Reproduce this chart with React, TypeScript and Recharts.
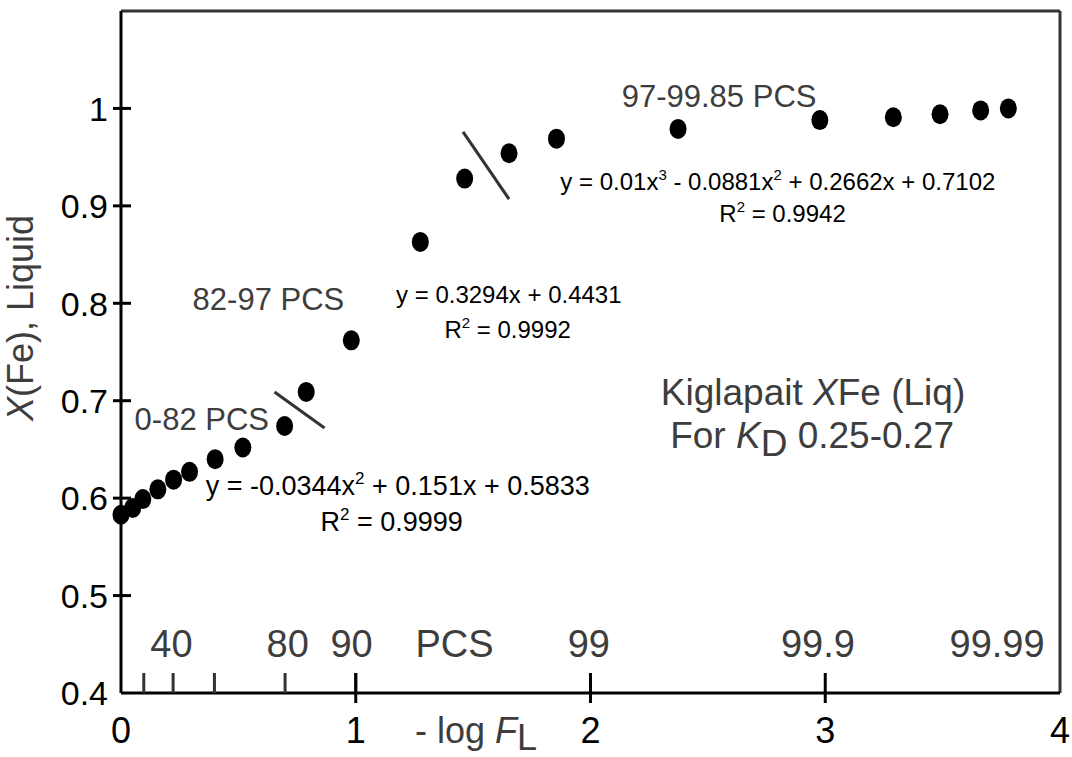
import { type ReactElement } from 'react'
import { ScatterChart, Scatter, XAxis, YAxis, ReferenceLine } from 'recharts'

const FONT = '"Liberation Sans", Arial, Helvetica, sans-serif'
const GREY = '#3d3d3d'

// -log F_L and X(Fe) of the liquid
const logF = [0, 0.05, 0.093, 0.157, 0.224, 0.292, 0.401, 0.519, 0.697, 0.789, 0.981, 1.275, 1.464, 1.653, 1.855, 2.373, 2.977, 3.29, 3.489, 3.662, 3.78]
const xFe = [0.583, 0.59, 0.599, 0.609, 0.619, 0.627, 0.64, 0.652, 0.674, 0.709, 0.762, 0.863, 0.928, 0.954, 0.969, 0.979, 0.988, 0.991, 0.994, 0.998, 1.0]

const xTicks = [0, 1, 2, 3, 4]
const yTicks = [0.4, 0.5, 0.6, 0.7, 0.8, 0.9, 1.0]

// PCS scale along the bottom
const pcsTickPos = [0.097, 0.222, 0.398, 0.699, 1]
const pcsLabels = ['40', '80', '90', 'PCS', '99', '99.9', '99.99']
const pcsLabelPos = [0.215, 0.71, 0.982, 1.421, 1.993, 2.969, 3.732]
const pcsLabelY = 0.437

// break marks between the fitted segments
const breakA = [{ x: 0.654, y: 0.709 }, { x: 0.867, y: 0.672 }]
const breakB = [{ x: 1.457, y: 0.976 }, { x: 1.653, y: 0.907 }]

const notes = [
  { id: 'seg1', x: 0.058, y: 0.67 },
  { id: 'seg2', x: 0.305, y: 0.793 },
  { id: 'seg3', x: 2.133, y: 1.0016 },
  { id: 'eq1', x: 1.179, y: 0.603 },
  { id: 'r1', x: 1.153, y: 0.566 },
  { id: 'eq2', x: 1.652, y: 0.8 },
  { id: 'r2', x: 1.647, y: 0.7645 },
  { id: 'eq3', x: 2.798, y: 0.9164 },
  { id: 'r3', x: 2.818, y: 0.8836 },
  { id: 'title1', x: 2.948, y: 0.6957 },
  { id: 'title2', x: 2.944, y: 0.6515 },
]

const points = logF.map((x, i) => ({ x, y: xFe[i] }))
const pcsTicks = pcsTickPos.map((x) => ({ x, y: 0.4 }))
const pcsText = pcsLabels.map((label, i) => ({ x: pcsLabelPos[i], y: pcsLabelY, label }))

const Sup = ({ t, size = 15, rise = 10 }: { t: string; size?: number; rise?: number }) => (
  <tspan dy={-rise} fontSize={size}>{t}</tspan>
)

function renderNote(id: string, x: number, y: number): ReactElement | null {
  const eq = { fontFamily: FONT, fontSize: 24, fill: '#000', textAnchor: 'middle' as const }
  const eqBig = { ...eq, fontSize: 27 }
  const lbl = { fontFamily: FONT, fontSize: 31, fill: GREY }
  switch (id) {
    case 'seg1':
      return <text x={x} y={y} {...lbl}>0-82 PCS</text>
    case 'seg2':
      return <text x={x} y={y} {...lbl}>82-97 PCS</text>
    case 'seg3':
      return <text x={x} y={y} {...lbl}>97-99.85 PCS</text>
    case 'eq1':
      return (
        <text x={x} y={y} {...eqBig}>
          y = -0.0344x<Sup t="2" size={17} rise={11} /><tspan dy={11}> + 0.151x + 0.5833</tspan>
        </text>
      )
    case 'r1':
      return (
        <text x={x} y={y} {...eqBig}>
          R<Sup t="2" size={17} rise={11} /><tspan dy={11}> = 0.9999</tspan>
        </text>
      )
    case 'r2':
    case 'r3':
      return (
        <text x={x} y={y} {...eq}>
          R<Sup t="2" /><tspan dy={10}> = {id === 'r2' ? '0.9992' : '0.9942'}</tspan>
        </text>
      )
    case 'eq2':
      return <text x={x} y={y} {...eq}>y = 0.3294x + 0.4431</text>
    case 'eq3':
      return (
        <text x={x} y={y} {...eq}>
          y = 0.01x<Sup t="3" /><tspan dy={10}> - 0.0881x</tspan><Sup t="2" />
          <tspan dy={10}> + 0.2662x + 0.7102</tspan>
        </text>
      )
    case 'title1':
      return (
        <text x={x} y={y} fontFamily={FONT} fontSize={37} fill={GREY} textAnchor="middle">
          Kiglapait <tspan fontStyle="italic">X</tspan>Fe (Liq)
        </text>
      )
    case 'title2':
      return (
        <text x={x} y={y} fontFamily={FONT} fontSize={37} fill={GREY} textAnchor="middle">
          For <tspan fontStyle="italic">K</tspan><tspan dy={8}>D</tspan><tspan dy={-8}> 0.25-0.27</tspan>
        </text>
      )
    default:
      return null
  }
}

const XTick = (props: any) => {
  const { x, y, payload } = props
  const v = payload.value
  return (
    <g>
      {v > 0 && v < 4 && <line x1={x} x2={x} y1={y - 20} y2={y + 10} stroke="#000" strokeWidth={3} />}
      <text x={x} y={y + 50} textAnchor="middle" fontFamily={FONT} fontSize={36} fill="#000">
        {v}
      </text>
    </g>
  )
}

const YTick = (props: any) => {
  const { x, y, payload } = props
  const v = payload.value
  return (
    <g>
      {v > 0.45 && <line x1={x - 8} x2={x + 10} y1={y} y2={y} stroke="#000" strokeWidth={3} />}
      <text x={x - 13} y={y} dy="0.36em" textAnchor="end" fontFamily={FONT} fontSize={34} fill="#000">
        {v === 1 ? '1' : v.toFixed(1)}
      </text>
    </g>
  )
}

const XTitle = (props: any) => {
  const { viewBox } = props
  const x = viewBox.x + viewBox.width * 0.313
  const y = viewBox.y + 50
  return (
    <text x={x} y={y} fontFamily={FONT} fontSize={36} fill={GREY}>
      - log <tspan fontStyle="italic">F</tspan><tspan dy={7}>L</tspan>
    </text>
  )
}

const YTitle = (props: any) => {
  const { viewBox } = props
  const cx = 33
  const cy = viewBox.y + viewBox.height * 0.45
  return (
    <text
      x={cx}
      y={cy}
      transform={`rotate(-90, ${cx}, ${cy})`}
      textAnchor="middle"
      fontFamily={FONT}
      fontSize={36}
      fill={GREY}
    >
      <tspan fontStyle="italic">X</tspan>(Fe), Liquid
    </text>
  )
}

export default function App(): ReactElement {
  return (
    <div style={{ position: 'absolute', left: 0, top: 0, width: 1072, height: 757, background: '#fff' }}>
      <ScatterChart width={1072} height={757} margin={{ top: 11, right: 12, bottom: 0, left: 0 }}>
        <XAxis
          type="number"
          dataKey="x"
          domain={[0, 4]}
          ticks={xTicks}
          interval={0}
          height={64}
          tickSize={0}
          tickMargin={0}
          tickLine={false}
          axisLine={{ stroke: '#000', strokeWidth: 3 }}
          tick={<XTick />}
          label={{ content: <XTitle /> }}
        />
        <YAxis
          type="number"
          dataKey="y"
          domain={[0.4, 1.1]}
          ticks={yTicks}
          interval={0}
          width={121}
          tickSize={0}
          tickMargin={0}
          tickLine={false}
          axisLine={{ stroke: '#000', strokeWidth: 3 }}
          tick={<YTick />}
          label={{ content: <YTitle /> }}
        />
        <ReferenceLine y={1.1} stroke="#333" strokeWidth={3} />
        <ReferenceLine x={4} stroke="#333" strokeWidth={3} />
        <ReferenceLine segment={breakA} stroke="#333" strokeWidth={3} />
        <ReferenceLine segment={breakB} stroke="#333" strokeWidth={3} />
        <Scatter
          data={pcsTicks}
          isAnimationActive={false}
          shape={(p: any) => <line x1={p.cx} x2={p.cx} y1={p.cy - 20} y2={p.cy} stroke="#333" strokeWidth={3} />}
        />
        <Scatter
          data={pcsText}
          isAnimationActive={false}
          shape={(p: any) => (
            <text x={p.cx} y={p.cy} textAnchor="middle" fontFamily={FONT} fontSize={38} fill={GREY}>
              {p.payload.label}
            </text>
          )}
        />
        <Scatter
          data={notes}
          isAnimationActive={false}
          shape={(p: any) => renderNote(p.payload.id, p.cx, p.cy)}
        />
        <Scatter
          data={points}
          isAnimationActive={false}
          shape={(p: any) => <ellipse cx={p.cx} cy={p.cy} rx={8.5} ry={10} fill="#000" />}
        />
      </ScatterChart>
    </div>
  )
}
